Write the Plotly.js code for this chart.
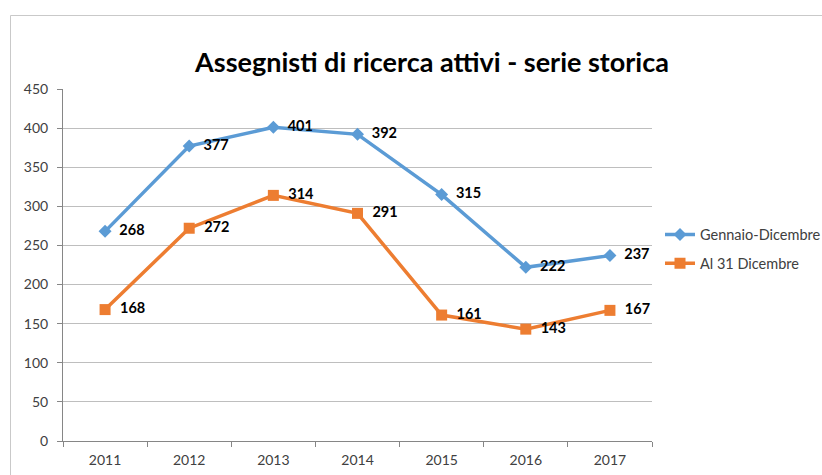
<!DOCTYPE html>
<html>
<head>
<meta charset="utf-8">
<script src="https://cdn.plot.ly/plotly-3.0.1.min.js"></script>
<style>
html,body{margin:0;padding:0;background:#fff;}
#chart{width:822px;height:475px;}
</style>
</head>
<body>
<div id="chart"></div>
<script>
const years = ['2011','2012','2013','2014','2015','2016','2017'];
const gennaioDicembre = [268, 377, 401, 392, 315, 222, 237];
const al31Dicembre = [168, 272, 314, 291, 161, 143, 167];
const seriesNames = ['Gennaio-Dicembre', 'Al 31 Dicembre'];
const yTicks = [0, 50, 100, 150, 200, 250, 300, 350, 400, 450];

const labelFont = {family: 'Lato, "Open Sans", sans-serif', size: 14.5, color: '#000000', weight: 'bold'};

const traces = [
  {
    x: years, y: gennaioDicembre, name: seriesNames[0],
    type: 'scatter', mode: 'lines+markers+text',
    line: {color: '#5B9BD5', width: 3.5},
    marker: {symbol: 'diamond', size: 10, color: '#5B9BD5'},
    text: gennaioDicembre.map(v => '  ' + v),
    textposition: 'middle right',
    textfont: labelFont,
    legendgroup: 'a',
    cliponaxis: false
  },
  {
    x: years, y: al31Dicembre, name: seriesNames[1],
    type: 'scatter', mode: 'lines+markers+text',
    line: {color: '#ED7D31', width: 3.5},
    marker: {symbol: 'square', size: 11, color: '#ED7D31'},
    text: al31Dicembre.map(v => '  ' + v),
    textposition: 'middle right',
    textfont: labelFont,
    legendgroup: 'b',
    cliponaxis: false
  }
];

const L = 63, R = 652, T = 89, B = 441, W = 822, H = 475;
const px2x = p => (p - L) / (R - L);
const py2y = p => (B - p) / (B - T);

const layout = {
  width: W, height: H,
  margin: {l: L, r: W - R, t: T, b: H - B, pad: 0, autoexpand: false},
  paper_bgcolor: '#ffffff',
  plot_bgcolor: '#ffffff',
  font: {family: 'Lato, "Open Sans", sans-serif', size: 14, color: '#404040'},
  title: {
    text: 'Assegnisti di ricerca attivi - serie storica',
    font: {family: 'Lato, "Open Sans", sans-serif', size: 27, color: '#000000', weight: 'bold'},
    x: 432 / W, xref: 'container', xanchor: 'center',
    y: 1 - 63 / H, yref: 'container', yanchor: 'middle'
  },
  xaxis: {
    type: 'category',
    tickvals: years, ticktext: years,
    showgrid: false,
    showline: true, linecolor: '#868686', linewidth: 1,
    ticks: 'outside', tickson: 'boundaries', ticklen: 5, tickcolor: '#868686',
    ticklabelstandoff: 6,
    tickfont: {size: 14, color: '#404040'},
    range: [-0.5, 6.5],
    fixedrange: true, zeroline: false, automargin: false
  },
  yaxis: {
    range: [0, 450],
    tickvals: yTicks,
    showgrid: true, gridcolor: '#BEBEBE', gridwidth: 1,
    showline: true, linecolor: '#868686', linewidth: 1,
    ticks: 'outside', ticklen: 5, tickcolor: '#868686',
    ticklabelstandoff: 6,
    tickfont: {size: 14, color: '#404040'},
    zeroline: false, fixedrange: true, automargin: false
  },
  legend: {
    x: px2x(660), xanchor: 'left',
    y: py2y(249), yanchor: 'middle',
    font: {size: 14.5, color: '#404040'},
    traceorder: 'grouped', tracegroupgap: 7,
    bgcolor: 'rgba(0,0,0,0)', itemwidth: 30
  },
  showlegend: true,
  shapes: [
    {type: 'line', xref: 'paper', yref: 'paper', x0: px2x(10.5), x1: px2x(10.5), y0: py2y(480), y1: py2y(15.5), line: {color: '#C9C9C9', width: 1}},
    {type: 'line', xref: 'paper', yref: 'paper', x0: px2x(10.5), x1: px2x(830), y0: py2y(15.5), y1: py2y(15.5), line: {color: '#C9C9C9', width: 1}}
  ]
};

Plotly.newPlot('chart', traces, layout, {displayModeBar: false, staticPlot: true});
</script>
</body>
</html>
